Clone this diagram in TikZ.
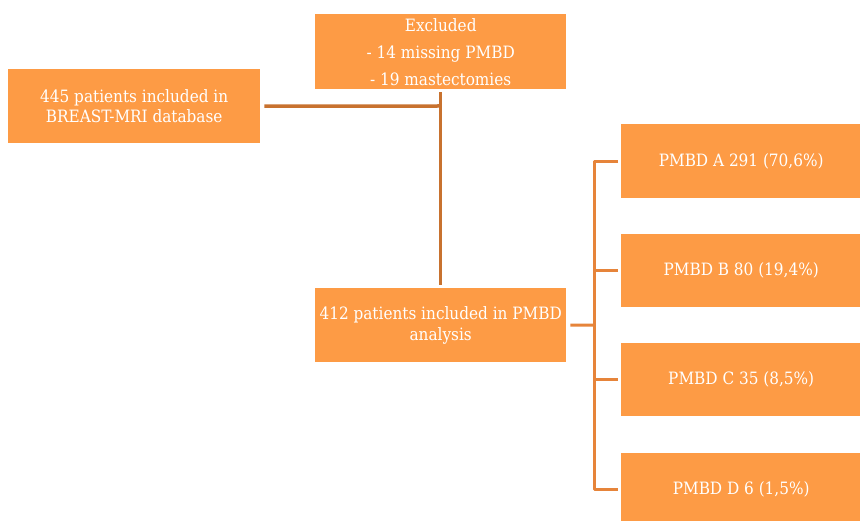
\documentclass[tikz,border=0pt]{standalone}
\usepackage{fontspec}
\setmainfont{DejaVu Serif Condensed}
\definecolor{boxfill}{HTML}{FD9B45}
\definecolor{lineA}{HTML}{C8722F}
\definecolor{lineB}{HTML}{E6843A}
\begin{document}
\begin{tikzpicture}[x=1pt,y=-1pt,
  box/.style={fill=boxfill, draw=none, text=white, inner sep=0pt, align=center, font=\fontsize{17}{20}\selectfont, anchor=north west},
  connA/.style={draw=lineA, line width=3.5pt},
  connB/.style={draw=lineB, line width=3pt, line join=round}]
\useasboundingbox (0,0) rectangle (860,521);
\begin{scope}
\clip (0,0) rectangle (860,521);
\node[box, minimum width=252pt, minimum height=74pt] (db) at (8,69) {445 patients included in\\BREAST-MRI database};
\node[box, minimum width=251pt, minimum height=75pt, font=\fontsize{17}{27}\selectfont] (excl) at (315,14) {Excluded\\- 14 missing PMBD\\- 19 mastectomies};
\node[box, minimum width=251pt, minimum height=74pt, font=\fontsize{17}{21}\selectfont] (incl) at (315,288) {412 patients included in PMBD\\analysis};
\node[box, minimum width=240pt, minimum height=74pt] (pa) at (621,124) {PMBD A 291 (70,6\%)};
\node[box, minimum width=240pt, minimum height=73pt] (pb) at (621,234) {PMBD B 80 (19,4\%)};
\node[box, minimum width=240pt, minimum height=73pt] (pc) at (621,343) {PMBD C 35 (8,5\%)};
\node[box, minimum width=240pt, minimum height=73pt] (pd) at (621,453) {PMBD D 6 (1,5\%)};
\end{scope}
\coordinate (j1) at (440,106);
\coordinate (j2) at (594,325);
\draw[connA] ([xshift=4pt]db.east) -- (j1);
\draw[connA] ([yshift=-3pt]excl.south) -- ([yshift=3pt]incl.north);
\draw[connB] ([xshift=4pt]incl.east) -- (j2);
\draw[connB] ([xshift=-3pt]pa.west) -| (j2 |- pd.west) -- ([xshift=-3pt]pd.west);
\draw[connB] (j2 |- pb.west) -- ([xshift=-3pt]pb.west);
\draw[connB] (j2 |- pc.west) -- ([xshift=-3pt]pc.west);
\end{tikzpicture}
\end{document}
